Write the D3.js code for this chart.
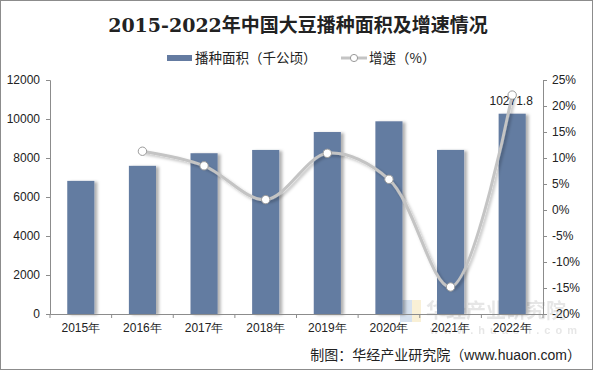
<!DOCTYPE html>
<html>
<head>
<meta charset="utf-8">
<script src="https://cdn.jsdelivr.net/npm/d3@7"></script>
<style>
  body { margin: 0; background: #fff; }
  svg { display: block; font-family: "Liberation Sans", Arial, "Noto Sans CJK SC", sans-serif; }
</style>
</head>
<body>
<div id="chart"></div>
<script>
// data
const years = ['2015年', '2016年', '2017年', '2018年', '2019年', '2020年', '2021年', '2022年'];
const area = [6827, 7599, 8245, 8413, 9332, 9882, 8415, 10271.8];
const growth = [null, 11.3, 8.5, 2.0, 10.9, 5.9, -14.8, 22.1];
const areaTicks = [0, 2000, 4000, 6000, 8000, 10000, 12000];
const growthTicks = [-20, -15, -10, -5, 0, 5, 10, 15, 20, 25];

const width = 595;
const height = 373;
const margin = { top: 80, right: 52, bottom: 59, left: 50 };

const svg = d3.select('#chart')
  .append('svg')
  .attr('width', width)
  .attr('height', height);

// shadow filters
const defs = svg.append('defs');
const sh = defs.append('filter').attr('id', 'barShadow')
  .attr('x', '-20%').attr('y', '-5%').attr('width', '160%').attr('height', '110%');
sh.append('feDropShadow').attr('dx', 3).attr('dy', 1).attr('stdDeviation', 1.8)
  .attr('flood-color', '#000').attr('flood-opacity', 0.3);
const lsh = defs.append('filter').attr('id', 'lineShadow')
  .attr('x', '-10%').attr('y', '-20%').attr('width', '120%').attr('height', '140%');
lsh.append('feDropShadow').attr('dx', 2).attr('dy', 2).attr('stdDeviation', 1.5)
  .attr('flood-color', '#000').attr('flood-opacity', 0.25);

// frame
svg.append('rect')
  .attr('x', 0.5).attr('y', 0.5)
  .attr('width', width - 3).attr('height', height - 4)
  .attr('fill', 'none').attr('stroke', '#8c8c8c');

// title
svg.append('text')
  .attr('x', 298)
  .attr('y', 32)
  .attr('text-anchor', 'middle')
  .style('font-family', '"DejaVu Serif", "Liberation Serif", "Noto Sans CJK SC", serif')
  .style('font-size', '19px')
  .style('font-weight', 'bold')
  .attr('fill', '#222')
  .text('2015-2022年中国大豆播种面积及增速情况');

// scales
const x = d3.scaleBand()
  .domain(years)
  .range([margin.left, width - margin.right])
  .paddingInner(0.56)
  .paddingOuter(0.28);
const xc = d => x(d) + x.bandwidth() / 2;

const y = d3.scaleLinear()
  .domain([0, 12000])
  .range([height - margin.bottom, margin.top]);
const y2 = d3.scaleLinear()
  .domain([-20, 25])
  .range([height - margin.bottom, margin.top]);

// watermark
const wm = svg.append('g').attr('opacity', 0.2);
wm.append('rect').attr('x', 400).attr('y', 300).attr('width', 12).attr('height', 22).attr('fill', '#3a6fb5');
wm.append('rect').attr('x', 412).attr('y', 300).attr('width', 9).attr('height', 22).attr('fill', '#e6b63a');
wm.append('text').attr('x', 426).attr('y', 318)
  .style('font-family', '"Noto Sans CJK SC", sans-serif').style('font-size', '20px').style('font-weight', 'bold')
  .attr('fill', '#888').text('华经产业研究院');
wm.append('text').attr('x', 430).attr('y', 334)
  .style('font-size', '11px').style('font-weight', 'bold').style('letter-spacing', '5px')
  .attr('fill', '#888').text('www.huaon.com');

// bars
svg.selectAll('.bar')
  .data(area)
  .enter().append('rect')
  .attr('class', 'bar')
  .attr('x', (d, i) => x(years[i]))
  .attr('width', x.bandwidth())
  .attr('y', d => y(d))
  .attr('height', d => y(0) - y(d))
  .attr('fill', '#647ba1')
  .attr('filter', 'url(#barShadow)');

// data label on last bar
svg.append('text')
  .attr('x', xc(years[7]) - 1)
  .attr('y', y(area[7]) - 9)
  .attr('text-anchor', 'middle')
  .style('font-size', '12px')
  .attr('fill', '#222')
  .text('10271.8');

// axes
const axisColor = '#8c8c8c';
const gLeft = svg.append('g')
  .attr('transform', `translate(${margin.left},0)`)
  .call(d3.axisLeft(y).tickValues(areaTicks).tickSize(4).tickPadding(6).tickFormat(d3.format('d')));
const gRight = svg.append('g')
  .attr('transform', `translate(${width - margin.right},0)`)
  .call(d3.axisRight(y2).tickValues(growthTicks).tickSize(4).tickPadding(5).tickFormat(d => d + '%'));
const gBottom = svg.append('g')
  .attr('transform', `translate(0,${height - margin.bottom})`)
  .call(d3.axisBottom(x).tickSize(0).tickPadding(9));
// boundary ticks on the category axis
gBottom.selectAll('.bound')
  .data(d3.range(years.length + 1))
  .enter().append('line')
  .attr('class', 'bound')
  .attr('x1', i => margin.left + i * x.step())
  .attr('x2', i => margin.left + i * x.step())
  .attr('y1', 0).attr('y2', 4)
  .attr('stroke', axisColor);

[gLeft, gRight, gBottom].forEach(g => {
  g.select('.domain').attr('stroke', axisColor);
  g.selectAll('.tick line').attr('stroke', axisColor);
  g.selectAll('.tick text').attr('fill', '#222').style('font-size', '12px');
});

// growth line
const pts = growth.map((v, i) => ({ year: years[i], v })).filter(d => d.v !== null);
const line = d3.line()
  .x(d => xc(d.year))
  .y(d => y2(d.v))
  .curve(d3.curveCatmullRom.alpha(0.5));

svg.append('path')
  .datum(pts)
  .attr('d', line)
  .attr('fill', 'none')
  .attr('stroke', '#c4c4c4')
  .attr('stroke-width', 3)
  .attr('filter', 'url(#lineShadow)');

svg.selectAll('.dot')
  .data(pts)
  .enter().append('circle')
  .attr('class', 'dot')
  .attr('cx', d => xc(d.year))
  .attr('cy', d => y2(d.v))
  .attr('r', 4.2)
  .attr('fill', '#fff')
  .attr('stroke', '#9a9a9a')
  .attr('stroke-width', 1);

// legend
const lg = svg.append('g').style('font-family', '"Noto Sans CJK SC", sans-serif').style('font-size', '13.5px');
lg.append('rect').attr('x', 167).attr('y', 55).attr('width', 25).attr('height', 6).attr('fill', '#647ba1');
lg.append('text').attr('x', 195).attr('y', 63).attr('fill', '#222').text('播种面积（千公顷）');
lg.append('line').attr('x1', 341).attr('x2', 367).attr('y1', 58).attr('y2', 58)
  .attr('stroke', '#c4c4c4').attr('stroke-width', 3);
lg.append('circle').attr('cx', 354).attr('cy', 58).attr('r', 3.6)
  .attr('fill', '#fff').attr('stroke', '#9a9a9a');
lg.append('text').attr('x', 369).attr('y', 63).attr('fill', '#222').text('增速（%）');

// source
svg.append('text')
  .attr('x', 581)
  .attr('y', 360)
  .attr('text-anchor', 'end')
  .style('font-size', '14px')
  .attr('fill', '#222')
  .text('制图：华经产业研究院（www.huaon.com）');
</script>
</body>
</html>
